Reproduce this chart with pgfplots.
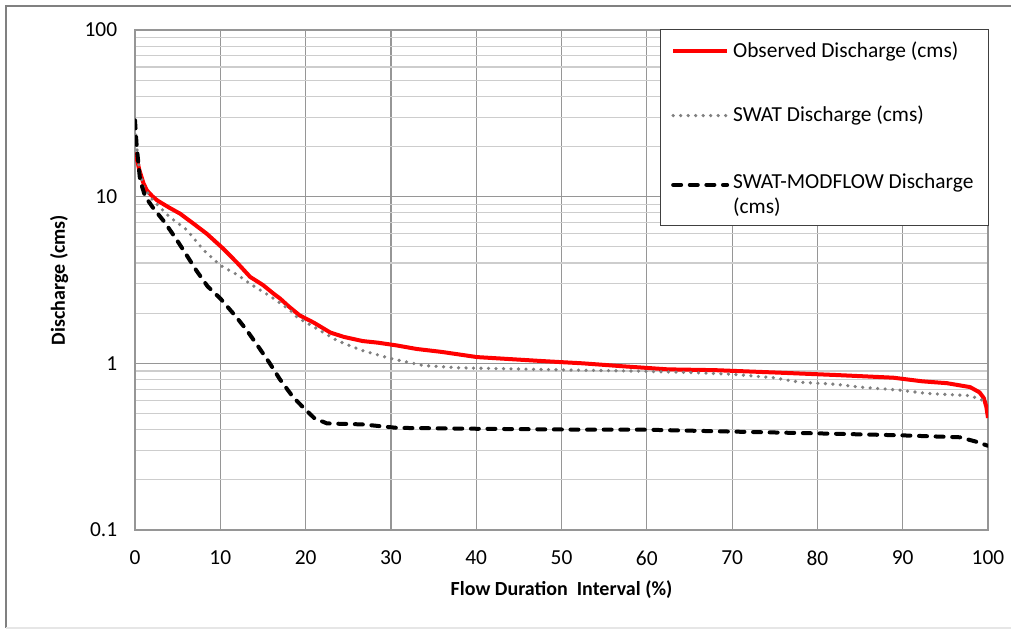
\documentclass[border=0pt]{standalone}
\usepackage{pgfplots}
\pgfplotsset{compat=1.18}
\usepackage{fontspec}
\setmainfont{Carlito}

\definecolor{obsred}{RGB}{255,0,0}
\definecolor{swatgray}{RGB}{128,128,128}
\definecolor{gridmaj}{RGB}{150,150,150}
\definecolor{gridmin}{RGB}{205,205,205}
\definecolor{framegray}{RGB}{128,128,128}
\definecolor{framelight}{RGB}{230,230,230}

\newcommand{\chartfont}{\fontsize{10.7}{12.5}\selectfont}

\pgfplotsset{
    flatlegend/.style={legend image code/.code={\draw[##1] (0pt,0pt) -- (27pt,0pt);}},
    raisedlegend/.style={legend image code/.code={\draw[##1] (0pt,3.7pt) -- (27pt,3.7pt);}},
}

\begin{document}
\begin{tikzpicture}
\useasboundingbox (0,0) rectangle (505.5pt,315pt);
\draw[framegray, line width=1.2pt] (3pt,1pt) -- (3pt,312pt) -- (506pt,312pt);
\draw[framelight, line width=0.8pt] (3pt,1pt) -- (506pt,1pt);
\begin{axis}[
    at={(67.5pt,50pt)}, anchor=south west,
    scale only axis,
    width=426.5pt, height=250pt,
    xmin=0, xmax=100,
    ymode=log, ymin=0.1, ymax=100,
    xtick={0,10,...,100},
    ytick={0.1,1,10,100},
    yticklabels={0.1,1,10,100},
    minor ytick={0.2,0.3,0.4,0.5,0.6,0.7,0.8,0.9,2,3,4,5,6,7,8,9,20,30,40,50,60,70,80,90},
    major tick length=0pt, minor tick length=0pt,
    xmajorgrids, ymajorgrids, yminorgrids,
    major grid style={gridmaj, line width=0.6pt},
    minor grid style={gridmin, line width=0.6pt},
    axis line style={gridmaj, line width=0.6pt},
    /pgf/number format/assume math mode=true,
    tick label style={font=\chartfont, black},
    xticklabel style={yshift=-7pt},
    yticklabel style={xshift=-5.4pt},
    xlabel={\textbf{Flow Duration\ \ Interval (\%)}},
    ylabel={\textbf{Discharge (cms)}},
    label style={font=\chartfont},
    every axis x label/.style={at={(axis description cs:0.5,-0.12)}, anchor=center},
    every axis y label/.style={at={(axis description cs:-0.089,0.5)}, anchor=center, rotate=90},
    legend cell align=left,
    legend style={at={(axis description cs:1.0012,1.002)}, anchor=north east,
        draw=black!75, line width=0.6pt, fill=white,
        inner xsep=5.5pt, inner ysep=4pt, row sep=19pt,
        font=\chartfont},
    flatlegend,
]
% Observed
\addplot[obsred, line width=2pt, line join=round] coordinates {
(0,18.4) (0.2,17) (0.5,14.5) (1.0,12) (1.4,10.9) (2.0,10.1) (2.6,9.5)
(4.0,8.6) (5.3,7.9) (7.0,6.8) (8.4,6.0) (10.3,4.9) (12.0,4.0) (13.5,3.3)
(15.0,2.95) (16.2,2.63) (17.0,2.45) (18.0,2.2) (19.3,1.94) (21.0,1.75)
(22.9,1.53) (24.5,1.44) (26.7,1.36) (28.5,1.33) (30.7,1.28) (33,1.22)
(36,1.17) (40.1,1.09) (44,1.06) (48,1.03) (52.5,1.0) (57.2,0.96)
(62.5,0.92) (68,0.91) (75.3,0.88) (82.4,0.85) (88.9,0.82) (92.3,0.78)
(95.2,0.76) (97.9,0.72) (99.0,0.67) (99.5,0.62) (99.8,0.55) (100,0.47)
};
\addlegendentry{Observed Discharge (cms)}
% SWAT
\addplot[swatgray, line width=1.8pt, line cap=round, dash pattern=on 0pt off 3.75pt] coordinates {
(0,26) (0.2,20) (0.5,14.5) (1.0,11.5) (2.1,9.5) (4,7.6) (6.1,6.3) (8,4.8)
(10,3.87) (12,3.4) (13.5,3.0) (16,2.5) (18.2,2.08) (19,1.89) (21,1.65)
(23.7,1.37) (26.5,1.2) (29.9,1.07) (33.8,0.97) (38,0.94) (42.4,0.93)
(51.8,0.91) (58,0.90) (65.4,0.88) (70,0.86) (74.8,0.82) (78,0.77)
(82,0.75) (85,0.72) (89.7,0.69) (92.8,0.66) (97.9,0.64) (99.4,0.6) (100,0.58)
};
\addlegendentry{SWAT Discharge (cms)}
% SWAT-MODFLOW
\addplot[black, line width=2pt, line cap=round, dash pattern=on 4pt off 4.3pt, raisedlegend] coordinates {
(0,28.7) (0.2,20) (0.6,12.5) (1.2,10) (2.1,8.6) (3.5,7) (4.9,5.5) (6,4.5)
(7.2,3.6) (8.5,2.9) (10,2.45) (11.9,1.89) (13.1,1.58) (14.5,1.25)
(15.8,1.0) (17,0.8) (18.5,0.63) (19.7,0.545) (21,0.47) (22.5,0.436)
(26.7,0.43) (30.7,0.41) (40,0.405) (52.2,0.40) (59.6,0.40) (69.4,0.39)
(80,0.38) (89.7,0.37) (96.7,0.36) (98.5,0.34) (100,0.32)
};
\addlegendentry{\begin{tabular}{@{}l@{}}SWAT-MODFLOW Discharge\\(cms)\rule[-13pt]{0pt}{0pt}\end{tabular}}
\end{axis}
\end{tikzpicture}
\end{document}
